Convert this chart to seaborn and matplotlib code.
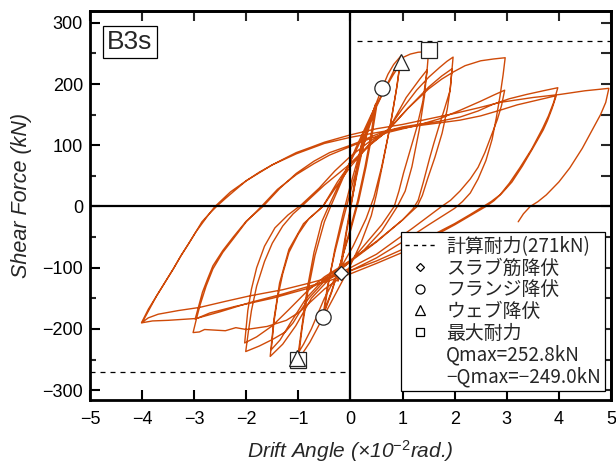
import numpy as np
import pandas as pd
import matplotlib
matplotlib.use("Agg")
import matplotlib.pyplot as plt
import seaborn as sns
from matplotlib.lines import Line2D
from matplotlib.ticker import MultipleLocator

# ---------------- data (drift angle x10^-2 rad, shear force kN) ----------------
# loading history, grouped by target amplitude
drift_a025 = [0.00, 0.12, 0.25, 0.18, 0.05, -0.08, -0.19, -0.24]
shear_a025 = [0, 60, 118, 85, 20, -45, -108, -122]

drift_a050 = [-0.15, -0.02, 0.12, 0.25, 0.38, 0.48,
              0.40, 0.28, 0.14, 0.00, -0.18, -0.36, -0.53,
              -0.44, -0.30, -0.12, 0.05, 0.22, 0.36, 0.50,
              0.42, 0.30, 0.16, 0.00, -0.20, -0.36, -0.50]
shear_a050 = [-75, -10, 50, 100, 140, 167,
              120, 65, 10, -35, -90, -140, -180,
              -130, -75, -15, 40, 90, 130, 162,
              120, 65, 10, -40, -95, -138, -170]

drift_a100 = [-0.42, -0.30, -0.15, 0.00, 0.20, 0.40, 0.61, 0.72, 0.83, 0.97,
              0.90, 0.78, 0.62, 0.50, 0.40, 0.20, -0.05, -0.30, -0.55, -0.78, -0.92, -1.00,
              -0.93, -0.82, -0.68, -0.50, -0.38, -0.15, 0.10, 0.40, 0.65, 0.82, 0.95,
              0.88, 0.76, 0.60, 0.45, 0.30, 0.05, -0.25, -0.50, -0.75, -0.90, -1.00]
shear_a100 = [-125, -70, -15, 35, 95, 148, 194, 216, 232, 246,
              200, 140, 70, 20, -15, -60, -105, -145, -185, -222, -240, -249,
              -200, -140, -80, -25, 0, 45, 95, 150, 190, 215, 232,
              190, 130, 65, 15, -20, -65, -110, -150, -200, -225, -239]

drift_a150 = [-0.93, -0.83, -0.70, -0.55, -0.42, -0.20, 0.10, 0.40, 0.65, 0.85, 0.97, 1.15, 1.30, 1.50,
              1.47, 1.39, 1.27, 1.14, 1.02, 0.93, 0.84, 0.60, 0.30, 0.00, -0.40, -0.75, -1.05, -1.30, -1.54,
              -1.47, -1.36, -1.18, -0.90, -0.53, -0.25, 0.00, 0.35, 0.72, 1.07, 1.33, 1.47,
              1.42, 1.32, 1.18, 1.05, 0.90, 0.60, 0.25, -0.10, -0.50, -0.85, -1.15, -1.35, -1.52]
shear_a150 = [-195, -135, -75, -25, 0, 40, 90, 145, 190, 225, 242, 249, 252, 253,
              222, 172, 128, 90, 55, 25, 0, -30, -60, -90, -118, -150, -195, -225, -245,
              -185, -125, -70, -28, 0, 40, 70, 100, 124, 178, 208, 223,
              180, 125, 65, 25, 0, -40, -72, -95, -118, -150, -190, -218, -234]

drift_a200 = [-1.47, -1.40, -1.30, -1.18, -1.00, -0.80, -0.53, -0.25, 0.00, 0.35, 0.72, 1.00, 1.27,
              1.50, 1.71, 1.85, 1.97,
              1.94, 1.91, 1.80, 1.71, 1.60, 1.52, 1.40, 1.30, 1.20, 1.00, 0.50, 0.00, -0.50, -0.80,
              -0.97, -1.10, -1.25, -1.49, -1.75, -2.01,
              -1.96, -1.90, -1.80, -1.65, -1.50, -1.30, -1.10, -0.94, -0.50, 0.00, 0.40, 0.72, 1.10,
              1.50, 1.75, 1.95,
              1.92, 1.86, 1.76, 1.62, 1.48, 1.38, 1.28, 1.00, 0.50, 0.00, -0.50, -0.85, -1.20, -1.50,
              -1.80, -2.03]
shear_a200 = [-190, -150, -110, -75, -45, -20, 0, 35, 65, 100, 126, 160, 190,
              211, 227, 237, 244,
              215, 189, 158, 134, 103, 79, 40, 10, -4, -22, -58, -90, -122, -150,
              -172, -190, -205, -217, -228, -237,
              -205, -170, -130, -90, -60, -32, -12, 0, 35, 70, 102, 124, 160,
              195, 213, 225,
              195, 160, 120, 80, 45, 18, 0, -22, -57, -88, -115, -140, -170, -195,
              -213, -223]

drift_a300 = [-1.97, -1.90, -1.80, -1.65, -1.45, -1.20, -0.94, -0.60, -0.30, 0.00, 0.35, 0.72, 1.10,
              1.50, 1.75, 1.98, 2.20, 2.50, 2.75, 2.97,
              2.93, 2.87, 2.80, 2.72, 2.60, 2.45, 2.30, 2.15, 2.00, 1.50, 1.00, 0.50, 0.00, -0.50,
              -0.97, -1.23, -1.60, -2.00, -2.20, -2.40, -2.60, -2.80, -2.90, -3.02,
              -2.96, -2.89, -2.77, -2.64, -2.45, -2.25, -2.00, -1.71, -1.40, -1.04, -0.70, -0.40,
              0.00, 0.35, 0.72, 1.30, 1.70, 2.10, 2.50, 2.75, 2.96,
              2.90, 2.82, 2.70, 2.58, 2.45, 2.30, 2.10, 1.92, 1.75, 1.20, 0.50, 0.00, -0.40, -0.78,
              -1.50, -2.20, -2.70, -2.98]
shear_a300 = [-170, -135, -100, -65, -35, -14, 3, 30, 58, 82, 105, 125, 160,
              192, 208, 220, 230, 238, 241, 243,
              215, 180, 145, 110, 75, 45, 22, 8, -3, -30, -58, -84, -105, -135,
              -172, -186, -196, -201, -198, -203, -202, -201, -205, -206,
              -185, -162, -130, -102, -75, -53, -25, 0, 28, 52, 70, 84,
              98, 110, 121, 133, 143, 157, 172, 182, 190,
              165, 142, 115, 88, 64, 45, 25, 10, 0, -35, -78, -100, -118, -133,
              -150, -163, -174, -184]

drift_a400 = [-2.92, -2.84, -2.74, -2.64, -2.45, -2.25, -2.00, -1.68, -1.35, -1.04, -0.70, -0.40,
              0.00, 0.18, 0.45, 0.72, 1.00, 1.30, 1.70, 2.10, 2.45, 2.74, 3.05, 3.38, 3.70, 3.98,
              3.90, 3.80, 3.69, 3.48, 3.25, 3.05, 2.87, 2.70, 2.55, 2.30, 2.00, 1.50, 1.00, 0.50,
              0.00, -0.40, -0.78, -1.30, -1.93, -2.40, -2.90, -3.30, -3.69, -3.88, -4.01,
              -3.88, -3.72, -3.56, -3.40, -3.25, -3.10, -2.97, -2.85, -2.72, -2.60, -2.30, -2.00,
              -1.50, -1.04, -0.50, 0.00, 0.72, 1.30, 2.10, 2.50, 2.90, 3.20, 3.50, 3.75, 3.95,
              3.87, 3.78, 3.70, 3.50, 3.30, 3.10, 2.90, 2.75, 2.60, 2.30, 2.00, 1.50, 1.00, 0.50,
              0.00, -0.40, -0.78, -1.30, -1.93, -2.50, -2.96, -3.50, -3.80, -4.00]
shear_a400 = [-165, -140, -118, -97, -72, -50, -24, 0, 30, 54, 74, 88,
              100, 106, 116, 124, 130, 134, 139, 146, 156, 167, 176, 183, 189, 194,
              170, 148, 128, 94, 63, 38, 19, 8, 0, -13, -28, -50, -70, -89,
              -105, -116, -125, -136, -146, -155, -165, -170, -176, -182, -190,
              -168, -146, -124, -102, -80, -60, -42, -28, -13, 0, 24, 42,
              68, 86, 103, 113, 124, 132, 141, 148, 158, 166, 172, 177, 181,
              160, 140, 125, 95, 66, 40, 21, 9, 0, -15, -30, -53, -75, -93,
              -110, -121, -130, -143, -157, -172, -183, -186, -187, -190]

drift_a500 = [-3.86, -3.72, -3.56, -3.40, -3.25, -3.10, -2.97, -2.85, -2.71, -2.57, -2.40, -2.25,
              -2.00, -1.75, -1.50, -1.25, -1.04, -0.75, -0.50, -0.25, 0.00, 0.50, 1.00, 1.50, 2.00,
              2.45, 2.87, 3.50, 4.02, 4.50, 4.96,
              4.90, 4.80, 4.66, 4.45, 4.21, 4.00, 3.76, 3.60, 3.45, 3.32, 3.22]
shear_a500 = [-168, -146, -124, -102, -80, -60, -42, -25, -12, 0, 13, 24,
              42, 56, 68, 79, 88, 97, 105, 111, 117, 127, 134, 143, 152,
              161, 170, 178, 183, 189, 193,
              170, 150, 128, 95, 63, 40, 19, 8, 0, -12, -25]

# calculated strength
calc_strength = 271
# event markers (drift, shear)
slab_x, slab_y = [-0.19], [-108]
flange_x, flange_y = [0.61, -0.53], [194, -180]
web_x, web_y = [0.97, -1.03], [236, -247]
max_x, max_y = [1.50, -1.00], [255, -250]

legend_labels = ["計算耐力(271kN)", "スラブ筋降伏", "フランジ降伏", "ウェブ降伏", "最大耐力",
                 "Qmax=252.8kN", "\u2212Qmax=\u2212249.0kN"]
panel_label = "B3s"

# ---------------- plotting ----------------
sns.set_style("ticks")
plt.rcParams['font.family'] = ['Liberation Sans', 'DejaVu Sans']
plt.rcParams['mathtext.fontset'] = 'custom'
plt.rcParams['mathtext.rm'] = 'Liberation Sans'
plt.rcParams['mathtext.it'] = 'Liberation Sans:italic'
plt.rcParams['mathtext.default'] = 'it'

LINE = '#CF4A08'

xs, ys = [], []
for dx, sy in [(drift_a025, shear_a025), (drift_a050, shear_a050), (drift_a100, shear_a100),
               (drift_a150, shear_a150), (drift_a200, shear_a200), (drift_a300, shear_a300),
               (drift_a400, shear_a400), (drift_a500, shear_a500)]:
    xs.extend(dx)
    ys.extend(sy)
df = pd.DataFrame({'drift': xs, 'shear': ys})

fig = plt.figure(figsize=(6.16, 4.65), dpi=100)
ax = fig.add_axes([0.146, 0.140, 0.8458, 0.8372])

sns.lineplot(data=df, x='drift', y='shear', sort=False, estimator=None,
             color=LINE, lw=1.0, ax=ax, zorder=2)

ax.axhline(0, color='black', lw=1.6, zorder=3)
ax.axvline(0, color='black', lw=1.6, zorder=3)

ax.plot([0.12, 5.0], [calc_strength, calc_strength], color='black', lw=0.9,
        ls=(0, (4, 4)), zorder=3)
ax.plot([-5.0, -0.1], [-calc_strength, -calc_strength], color='black', lw=0.9,
        ls=(0, (4, 4)), zorder=3)

mk = dict(ls='none', mfc='white', mec='#222222', mew=0.9, zorder=5)
ax.plot(slab_x, slab_y, marker='D', ms=7, **mk)
ax.plot(flange_x, flange_y, marker='o', ms=11, **mk)
ax.plot(max_x, max_y, marker='s', ms=11, **mk)
ax.plot(web_x, web_y, marker='^', ms=11, **mk)

ax.set_xlim(-5, 5)
ax.set_ylim(-316, 320)
ax.xaxis.set_major_locator(MultipleLocator(1))
ax.yaxis.set_major_locator(MultipleLocator(100))
ax.yaxis.set_minor_locator(MultipleLocator(50))
ax.tick_params(axis='both', which='major', direction='in', length=7, width=1.5,
               labelsize=13, colors='black')
ax.tick_params(axis='y', which='minor', direction='in', length=4.5, width=1.5)
ax.tick_params(axis='x', pad=8)
ax.tick_params(axis='y', pad=5)
for s in ax.spines.values():
    s.set_linewidth(2.0)
    s.set_color('black')
    s.set_visible(True)

secx = ax.secondary_xaxis('top')
secx.xaxis.set_major_locator(MultipleLocator(1))
secx.tick_params(axis='x', direction='in', length=7, width=1.5, labeltop=False)
secy = ax.secondary_yaxis('right')
secy.yaxis.set_major_locator(MultipleLocator(50))
secy.tick_params(axis='y', direction='in', length=7, width=1.5, labelright=False)
for sec in (secx, secy):
    for s in sec.spines.values():
        s.set_linewidth(2.0)

ax.set_xlabel(r"Drift Angle (×10$^{-2}$rad.)", fontsize=15, style='italic')
ax.set_ylabel("Shear Force (kN)", fontsize=15.5, style='italic')
ax.xaxis.set_label_coords(0.5, -0.098)
ax.yaxis.set_label_coords(-0.111, 0.525)

ax.text(0.0768, 0.92, panel_label, transform=ax.transAxes, fontsize=19,
        ha='center', va='center', zorder=6,
        bbox=dict(boxstyle='square,pad=0.15', fc='white', ec='black', lw=0.9))

handles = [
    Line2D([0], [0], color='black', lw=1.0, ls=(0, (3, 3))),
    Line2D([0], [0], marker='D', ls='none', mfc='white', mec='black', mew=0.9, ms=4.5),
    Line2D([0], [0], marker='o', ls='none', mfc='white', mec='black', mew=0.9, ms=6.5),
    Line2D([0], [0], marker='^', ls='none', mfc='white', mec='black', mew=0.9, ms=6.5),
    Line2D([0], [0], marker='s', ls='none', mfc='white', mec='black', mew=0.9, ms=6),
    Line2D([0], [0], ls='none'),
    Line2D([0], [0], ls='none'),
]
leg = ax.legend(handles, legend_labels, loc='upper left', bbox_to_anchor=(0.597, 0.4316),
                borderaxespad=0, borderpad=0.2, handlelength=1.6, handletextpad=0.6,
                labelspacing=0.04, frameon=True, fancybox=False, framealpha=1,
                edgecolor='black', prop={'family': ['Noto Sans CJK JP', 'DejaVu Sans'], 'size': 13.6})
leg.get_frame().set_linewidth(0.9)
leg.set_zorder(6)

fig.savefig('out.png', dpi=100)
